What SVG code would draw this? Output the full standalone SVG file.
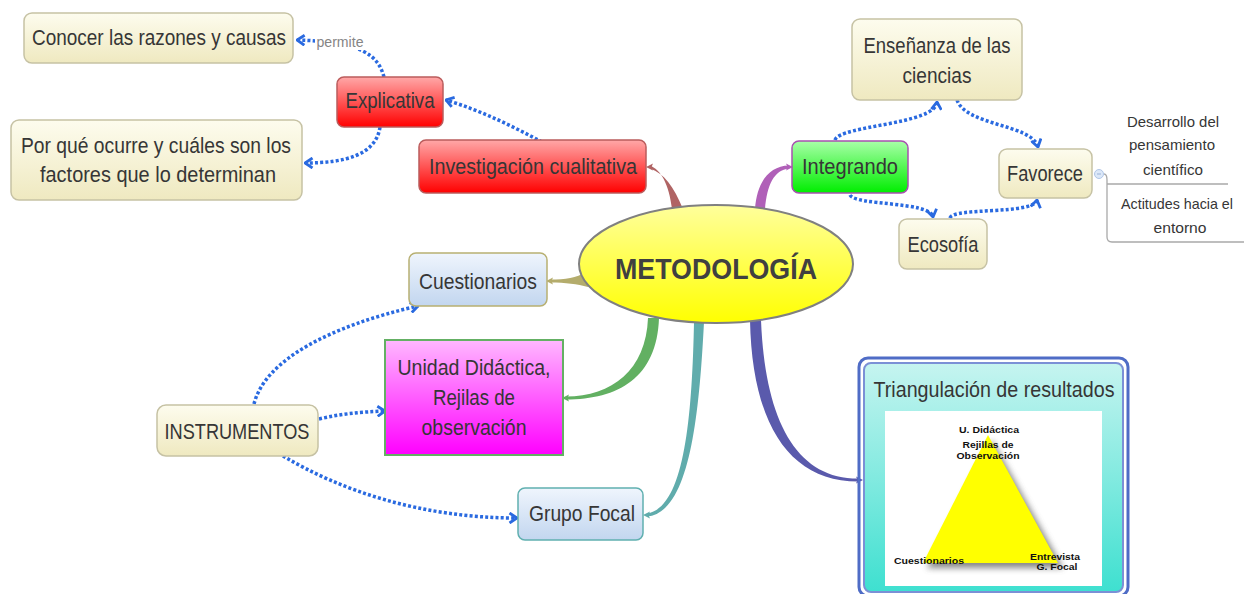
<svg xmlns="http://www.w3.org/2000/svg" width="1244" height="594" viewBox="0 0 1244 594">
<style>
  text { font-family: "Liberation Sans", Arial, sans-serif; fill: #363636; text-anchor: middle; }
  .t { font-size: 21.5px; }
  .s { font-size: 15px; }
  .tri { font-size: 9px; font-weight: bold; fill: #111; }
  .box { stroke-width: 1.5; }
  .y { fill: url(#gY); stroke: #c6c2a4; }
  .dot { fill: none; stroke: #2a6ae0; stroke-width: 3.5; stroke-dasharray: 3 2.2; marker-end: url(#ch); }
  .br { stroke: #a9a9a9; stroke-width: 1.3; fill: none; }
</style>
<defs>
  <linearGradient id="gY" x1="0" y1="0" x2="0" y2="1"><stop offset="0" stop-color="#fdfcee"/><stop offset="1" stop-color="#efe9c0"/></linearGradient>
  <linearGradient id="gR" x1="0" y1="0" x2="0" y2="1"><stop offset="0" stop-color="#ffa8a8"/><stop offset="1" stop-color="#ff0000"/></linearGradient>
  <linearGradient id="gG" x1="0" y1="0" x2="0" y2="1"><stop offset="0" stop-color="#a8ffa8"/><stop offset="1" stop-color="#00ee00"/></linearGradient>
  <linearGradient id="gB" x1="0" y1="0" x2="0" y2="1"><stop offset="0" stop-color="#eff5fd"/><stop offset="1" stop-color="#c2d6ef"/></linearGradient>
  <linearGradient id="gM" x1="0" y1="0" x2="0" y2="1"><stop offset="0" stop-color="#ffb8ff"/><stop offset="1" stop-color="#ff00ff"/></linearGradient>
  <linearGradient id="gE" x1="0" y1="0" x2="0" y2="1"><stop offset="0" stop-color="#ffff9c"/><stop offset="1" stop-color="#ffff00"/></linearGradient>
  <linearGradient id="gT" x1="0" y1="0" x2="0" y2="1"><stop offset="0" stop-color="#c6f4f0"/><stop offset="1" stop-color="#3ee0d0"/></linearGradient>
  <marker id="ch" viewBox="0 0 10 12" refX="9" refY="6" markerWidth="10" markerHeight="12" orient="auto" markerUnits="userSpaceOnUse">
    <path d="M1.5,1 L9,6 L1.5,11" fill="none" stroke="#2a6ae0" stroke-width="2.8"/>
  </marker>
  <filter id="sh" x="-20%" y="-20%" width="140%" height="140%"><feGaussianBlur stdDeviation="3"/></filter>
</defs>

<g id="connectors">
  <!-- thick tapered branches -->
  <path d="M672,209 C669,184 661,170 650,165.5 L650,168.5 C664,173 674,187 683,209 Z" fill="#b06464"/>
  <path d="M646,167 L653,163.5 L651.5,167 L653,170.5 Z" fill="#b06464"/>
  <path d="M755,209 C757,182 769,166 789,165.5 L789,168.5 C774,170 767,185 765,209 Z" fill="#b060b8"/>
  <path d="M793,167 L786,163.5 L787.5,167 L786,170.5 Z" fill="#b060b8"/>
  <path d="M586,272 C576,278 566,279.5 550,279.5 L550,282.5 C566,282.5 577,284 588,287 Z" fill="#b4ac6c"/>
  <path d="M546,281 L553,277.5 L551.5,281 L553,284.5 Z" fill="#b4ac6c"/>
  <path d="M648,318 C646,370 612,396.5 566,396.5 L566,399.5 C618,399.5 657,378 659,318 Z" fill="#62b062"/>
  <path d="M562,398 L569,394.5 L567.5,398 L569,401.5 Z" fill="#62b062"/>
  <path d="M694,322 C692,420 684,508 647,513.5 L647,516.5 C689,513 699,420 704,322 Z" fill="#60acac"/>
  <path d="M643,515 L650,511.5 L648.5,515 L650,518.5 Z" fill="#60acac"/>
  <path d="M750,320 C752,425 790,481.5 858,481.5 L858,478.5 C796,478.5 765,420 761,320 Z" fill="#5a5aac"/>
  <path d="M863,480 L856,476.5 L857.5,480 L856,483.5 Z" fill="#5a5aac"/>

  <!-- dotted relations -->
  <path class="dot" d="M384,77 C378,55 362,42 297,40"/>
  <rect x="315" y="33" width="50" height="17" fill="#ffffff"/>
  <text x="340" y="47" style="font-size:14px;fill:#858585" textLength="47" lengthAdjust="spacingAndGlyphs">permite</text>
  <path class="dot" d="M380,127 C376,155 345,163 305,163"/>
  <path class="dot" d="M542,142 C512,126 482,111 446,100"/>
  <path class="dot" d="M835,140 C840,125 935,125 937,102"/>
  <path class="dot" d="M957,100 C966,126 1032,124 1038,147"/>
  <path class="dot" d="M850,195 C856,206 930,201 933,217"/>
  <path class="dot" d="M950,218 C953,207 1034,215 1037,200"/>
  <path class="dot" d="M254,404 C265,360 330,326 418,306"/>
  <path class="dot" d="M319,419 C340,414 360,412 385,411"/>
  <path class="dot" d="M283,456 C340,490 420,518 517,518"/>

  <!-- Favorece sub-topics bracket -->
  <path class="br" d="M1104,174 Q1107,174 1107,180 L1107,237 Q1107,242 1112,242 L1244,242"/>
  <path class="br" d="M1107,184 L1228,184"/>
</g>

<g id="n-conocer">
  <rect class="box y" x="24" y="13" width="269" height="50" rx="8"/>
  <text class="t" x="159" y="45" textLength="254" lengthAdjust="spacingAndGlyphs">Conocer las razones y causas</text>
</g>
<g id="n-porque">
  <rect class="box y" x="11" y="120" width="291" height="80" rx="8"/>
  <text class="t" x="156" y="153" textLength="270" lengthAdjust="spacingAndGlyphs">Por qué ocurre y cuáles son los</text>
  <text class="t" x="158" y="182" textLength="236" lengthAdjust="spacingAndGlyphs">factores que lo determinan</text>
</g>
<g id="n-explicativa">
  <rect class="box" x="337" y="77" width="106" height="50" rx="7" fill="url(#gR)" stroke="#bb5c5c"/>
  <text class="t" x="390" y="108" textLength="89" lengthAdjust="spacingAndGlyphs">Explicativa</text>
</g>
<g id="n-investigacion">
  <rect class="box" x="419" y="140" width="227" height="53" rx="7" fill="url(#gR)" stroke="#bb5c5c"/>
  <text class="t" x="533" y="174" textLength="208" lengthAdjust="spacingAndGlyphs">Investigación cualitativa</text>
</g>
<g id="n-metodologia">
  <ellipse cx="716" cy="264" rx="137" ry="59" fill="url(#gE)" stroke="#808080" stroke-width="2"/>
  <text x="716" y="279" style="font-size:29px;font-weight:bold;fill:#404040" textLength="202" lengthAdjust="spacingAndGlyphs">METODOLOGÍA</text>
</g>
<g id="n-integrando">
  <rect class="box" x="792" y="141" width="116" height="52" rx="7" fill="url(#gG)" stroke="#a850b0" stroke-width="2"/>
  <text class="t" x="850" y="174" textLength="96" lengthAdjust="spacingAndGlyphs">Integrando</text>
</g>
<g id="n-ensenanza">
  <rect class="box y" x="852" y="19" width="170" height="81" rx="8"/>
  <text class="t" x="937" y="53" textLength="147" lengthAdjust="spacingAndGlyphs">Enseñanza de las</text>
  <text class="t" x="937" y="83" textLength="69" lengthAdjust="spacingAndGlyphs">ciencias</text>
</g>
<g id="n-favorece">
  <rect class="box y" x="999" y="149" width="93" height="49" rx="8"/>
  <text class="t" x="1045" y="181" textLength="76" lengthAdjust="spacingAndGlyphs">Favorece</text>
  <circle cx="1099" cy="174" r="4.5" fill="#dce8f8" stroke="#b0c6e6" stroke-width="1"/>
  <path d="M1097,174 L1101,174" stroke="#9ab2d8" stroke-width="1"/>
</g>
<g id="n-desarrollo">
  <text class="s" x="1173" y="127" textLength="92" lengthAdjust="spacingAndGlyphs">Desarrollo del</text>
  <text class="s" x="1172" y="150" textLength="86" lengthAdjust="spacingAndGlyphs">pensamiento</text>
  <text class="s" x="1173" y="175" textLength="60" lengthAdjust="spacingAndGlyphs">científico</text>
</g>
<g id="n-actitudes">
  <text class="s" x="1177" y="209" textLength="112" lengthAdjust="spacingAndGlyphs">Actitudes hacia el</text>
  <text class="s" x="1180" y="233" textLength="53" lengthAdjust="spacingAndGlyphs">entorno</text>
</g>
<g id="n-ecosofia">
  <rect class="box y" x="899" y="219" width="88" height="50" rx="8"/>
  <text class="t" x="943" y="252" textLength="71" lengthAdjust="spacingAndGlyphs">Ecosofía</text>
</g>
<g id="n-cuestionarios">
  <rect class="box" x="409" y="253" width="138" height="53" rx="7" fill="url(#gB)" stroke="#b8b072" stroke-width="2"/>
  <text class="t" x="478" y="289" textLength="118" lengthAdjust="spacingAndGlyphs">Cuestionarios</text>
</g>
<g id="n-instrumentos">
  <rect class="box y" x="157" y="405" width="161" height="51" rx="9"/>
  <text class="t" x="237" y="439" textLength="145" lengthAdjust="spacingAndGlyphs">INSTRUMENTOS</text>
</g>
<g id="n-unidad">
  <rect x="385" y="340" width="178" height="115" fill="url(#gM)" stroke="#64b064" stroke-width="2"/>
  <text class="t" x="474" y="375" textLength="153" lengthAdjust="spacingAndGlyphs">Unidad Didáctica,</text>
  <text class="t" x="474" y="405" textLength="82" lengthAdjust="spacingAndGlyphs">Rejilas de</text>
  <text class="t" x="474" y="435" textLength="105" lengthAdjust="spacingAndGlyphs">observación</text>
</g>
<g id="n-grupofocal">
  <rect class="box" x="518" y="488" width="125" height="52" rx="7" fill="url(#gB)" stroke="#60b0b0" stroke-width="2"/>
  <text class="t" x="582" y="521" textLength="106" lengthAdjust="spacingAndGlyphs">Grupo Focal</text>
</g>
<g id="n-triangulacion">
  <rect x="859" y="358" width="269" height="238" rx="9" fill="none" stroke="#4f6cc6" stroke-width="3"/>
  <rect x="864" y="363" width="259" height="229" rx="7" fill="url(#gT)" stroke="#7b90d6" stroke-width="2"/>
  <text class="t" x="994" y="397" textLength="241" lengthAdjust="spacingAndGlyphs">Triangulación de resultados</text>
  <rect x="885" y="411" width="217" height="175" fill="#ffffff"/>
  <path d="M992,440 L1063,568 L927,568 Z" fill="#555" opacity="0.7" filter="url(#sh)"/>
  <path d="M988,435 L1058,563 L923,563 Z" fill="#ffff00"/>
  <text class="tri" x="989" y="433" textLength="60" lengthAdjust="spacingAndGlyphs">U. Didáctica</text>
  <text class="tri" x="988" y="448" textLength="51" lengthAdjust="spacingAndGlyphs">Rejillas de</text>
  <text class="tri" x="988" y="459" textLength="63" lengthAdjust="spacingAndGlyphs">Observación</text>
  <text class="tri" x="929" y="564" textLength="70" lengthAdjust="spacingAndGlyphs">Cuestionarios</text>
  <text class="tri" x="1055" y="560" textLength="50" lengthAdjust="spacingAndGlyphs">Entrevista</text>
  <text class="tri" x="1057" y="570" textLength="41" lengthAdjust="spacingAndGlyphs">G. Focal</text>
</g>
</svg>
